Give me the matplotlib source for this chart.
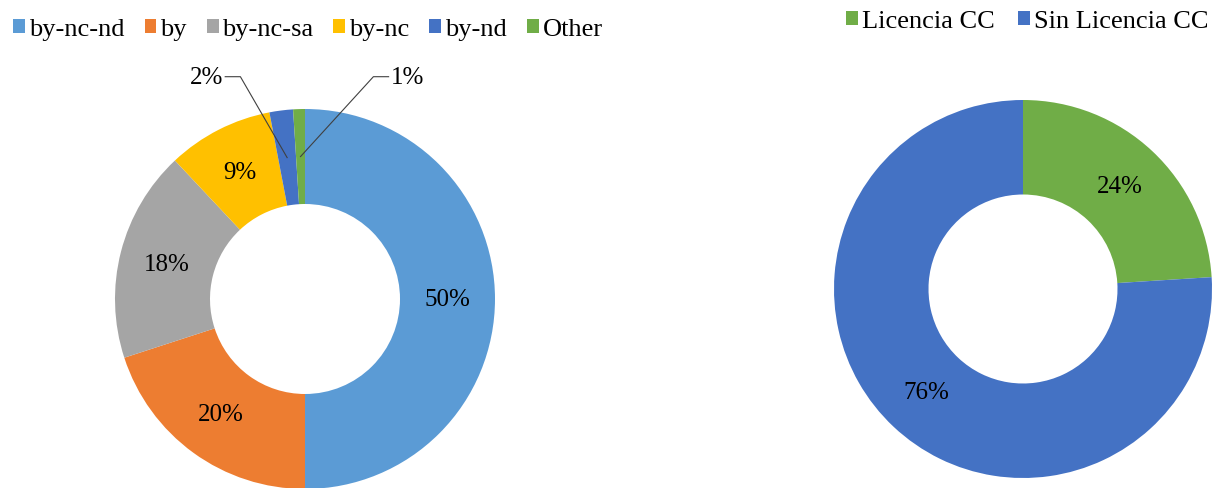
import numpy as np
import matplotlib.pyplot as plt

plt.rcParams['font.family'] = ['Liberation Serif', 'DejaVu Serif']

# datos del gráfico izquierdo (tipos de licencia CC)
tipos = ['by-nc-nd', 'by', 'by-nc-sa', 'by-nc', 'by-nd', 'Other']
porcentajes = [50, 20, 18, 9, 2, 1]
colores_tipos = ['#5B9BD5', '#ED7D31', '#A5A5A5', '#FFC000', '#4472C4', '#70AD47']

# datos del gráfico derecho
licencia = ['Licencia CC', 'Sin Licencia CC']
porc_licencia = [24, 76]
colores_licencia = ['#70AD47', '#4472C4']

W, H = 1212, 489
fig = plt.figure(figsize=(W / 100, H / 100), dpi=100)


def donut_axes(cx, cy, r):
    # ejes cuadrados centrados en (cx, cy) en pixeles
    ax = fig.add_axes([(cx - r) / W, (H - cy - r) / H, 2 * r / W, 2 * r / H])
    return ax


def fijar_limites(ax):
    # pie() pone sus propios limites, se ajustan despues
    ax.set_xlim(-1, 1)
    ax.set_ylim(-1, 1)
    ax.set_aspect('equal')
    ax.axis('off')


ax1 = donut_axes(305, 300, 190)
wedges1, _ = ax1.pie(porcentajes, colors=colores_tipos, startangle=90, counterclock=False,
                     radius=1, wedgeprops=dict(width=0.5, linewidth=0))
fijar_limites(ax1)

# etiquetas dentro del anillo para las porciones grandes
for w, p in zip(wedges1, porcentajes):
    if p < 5:
        continue
    ang = np.deg2rad((w.theta1 + w.theta2) / 2)
    ax1.text(0.75 * np.cos(ang), 0.75 * np.sin(ang), f'{p}%', ha='center', va='center',
             fontsize=18, color='black')

# etiquetas con línea guía para las porciones pequeñas
guias = {4: (-0.52, 1.17, -1), 5: (0.54, 1.17, 1)}
for i, (lx, ly, lado) in guias.items():
    w = wedges1[i]
    ang = np.deg2rad((w.theta1 + w.theta2) / 2)
    px, py = 0.75 * np.cos(ang), 0.75 * np.sin(ang)
    codo = lx - lado * 0.18
    ax1.plot([px, codo, lx - lado * 0.10], [py, ly, ly], color='#404040', lw=0.8, clip_on=False)
    ax1.text(lx, ly, f'{porcentajes[i]}%', ha='center', va='center', fontsize=18, color='black')

fig.legend(wedges1, tipos, loc='center', bbox_to_anchor=(308 / W, 1 - 30 / H), ncol=6,
           frameon=False, fontsize=19, handlelength=0.45, handleheight=0.45,
           handletextpad=0.15, columnspacing=0.75)

ax2 = donut_axes(1023, 290, 189)
wedges2, _ = ax2.pie(porc_licencia, colors=colores_licencia, startangle=90, counterclock=False,
                     radius=1, wedgeprops=dict(width=0.5, linewidth=0))
fijar_limites(ax2)
for w, p in zip(wedges2, porc_licencia):
    ang = np.deg2rad((w.theta1 + w.theta2) / 2)
    ax2.text(0.75 * np.cos(ang), 0.75 * np.sin(ang), f'{p}%', ha='center', va='center',
             fontsize=18, color='black')

fig.legend(wedges2, licencia, loc='center', bbox_to_anchor=(1027 / W, 1 - 22 / H), ncol=2,
           frameon=False, fontsize=19, handlelength=0.45, handleheight=0.45,
           handletextpad=0.15, columnspacing=0.9)

fig.savefig('out.png', dpi=100)
